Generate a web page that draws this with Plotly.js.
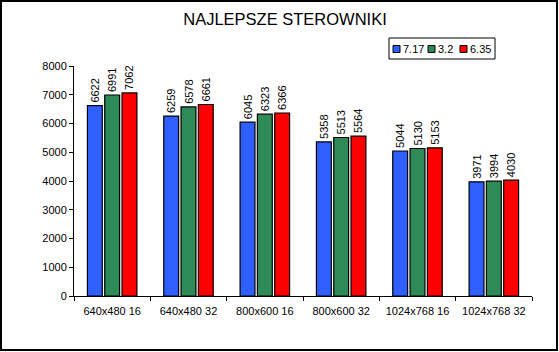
<!DOCTYPE html>
<html><head><meta charset="utf-8">
<script src="https://cdn.plot.ly/plotly-3.0.1.min.js"></script>
<style>html,body{margin:0;padding:0;background:#fff}#c{width:559px;height:352px}</style>
</head><body><div id="c"></div>
<script>
const categories = ["640x480 16","640x480 32","800x600 16","800x600 32","1024x768 16","1024x768 32"];
const seriesNames = ["7.17","3.2","6.35"];
const v717 = [6622,6259,6045,5358,5044,3971];
const v32  = [6991,6578,6323,5513,5130,3994];
const v635 = [7062,6661,6366,5564,5153,4030];
const colors = ["#2f5fff","#2e8b57","#ff0000"];
const vals = [v717,v32,v635];

const W=559,H=352,L=74,R=27,T=66,B=56;
const pw=W-L-R, ph=H-T-B;
const traces = vals.map((v,i)=>({
  type:'bar', name:seriesNames[i], x:categories, y:v,
  marker:{color:colors[i], line:{color:'#000',width:1.2}},
  text:v.map(String), textposition:'outside', textangle:-90, constraintext:'none',
  textfont:{family:'Liberation Sans, Arial', size:11, color:'#000'},
  cliponaxis:false, showlegend:false
}));
const px=(p)=> (p-L)/pw, py=(p)=> (H-B-p)/ph;
// custom compact legend (matches the reference's Excel-style legend)
const legX=[393,428,460], legTextX=[401,436,468];
const shapes=[{type:'rect', xref:'paper', yref:'paper', x0:px(1), x1:px(557), y0:py(350), y1:py(1),
           line:{color:'#000', width:2}, fillcolor:'rgba(0,0,0,0)', layer:'above'},
  {type:'rect', xref:'paper', yref:'paper', x0:px(389), x1:px(495), y0:py(59), y1:py(38),
           line:{color:'#000', width:1}, fillcolor:'#fff', layer:'above'}];
const annotations=[];
seriesNames.forEach((n,i)=>{
  shapes.push({type:'rect', xref:'paper', yref:'paper', x0:px(legX[i]), x1:px(legX[i]+7), y0:py(52.5), y1:py(45.5),
    line:{color:'#000', width:1}, fillcolor:colors[i], layer:'above'});
  annotations.push({xref:'paper', yref:'paper', x:px(legTextX[i]), y:py(49), xanchor:'left', yanchor:'middle',
    text:n, showarrow:false, font:{size:11, color:'#000'}});
});
Plotly.newPlot('c', traces, {
  width:W, height:H, margin:{l:L,r:R,t:T,b:B},
  paper_bgcolor:'#fff', plot_bgcolor:'#fff',
  font:{family:'Liberation Sans, Arial', size:11, color:'#000'},
  title:{text:'NAJLEPSZE STEROWNIKI', x:285/W, xanchor:'center', y:1-19/H, yanchor:'middle',
         font:{size:16.5, color:'#000', family:'Liberation Sans, Arial'}},
  barmode:'group', bargap:0.32, bargroupgap:0.14,
  showlegend:false,
  xaxis:{type:'category', showline:true, linecolor:'#000', linewidth:1, tickangle:0,
         ticks:'outside', tickson:'boundaries', ticklen:4, tickcolor:'#000', ticklabelstandoff:5,
         showgrid:false, tickfont:{size:11}, fixedrange:true},
  yaxis:{range:[0,8000], dtick:1000, showline:true, linecolor:'#000', linewidth:1,
         ticks:'outside', ticklen:4, tickcolor:'#000', showgrid:false, zeroline:false,
         tickfont:{size:11}, fixedrange:true},
  shapes:shapes, annotations:annotations
}, {staticPlot:true});
</script></body></html>
